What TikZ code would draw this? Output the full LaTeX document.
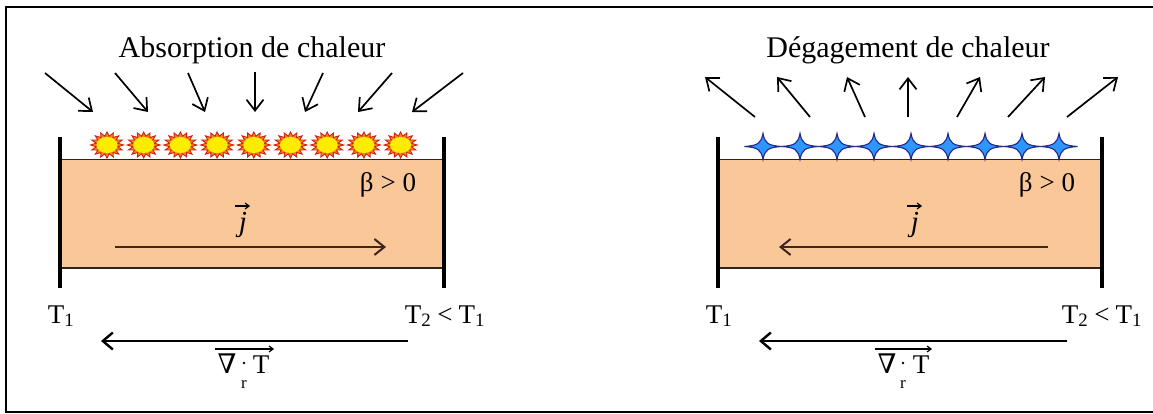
\documentclass[tikz,border=0pt]{standalone}
\usepackage{fontspec}
\setmainfont{Liberation Serif}
\newfontfamily\symfnt{DejaVu Serif}
\usetikzlibrary{arrows.meta}
\definecolor{peach}{RGB}{250,199,152}
\definecolor{boxedge}{RGB}{50,35,25}
\definecolor{inarrow}{RGB}{60,40,30}
\definecolor{sunfill}{RGB}{255,236,0}
\definecolor{sunspike}{RGB}{245,130,20}
\definecolor{sunedge}{RGB}{205,35,20}
\definecolor{starfill}{RGB}{45,150,255}
\definecolor{staredge}{RGB}{35,40,140}
\tikzset{
  frameline/.style={line width=2.5pt,line cap=rect},
  wall/.style={line width=4pt},
  edgeline/.style={draw=boxedge,line width=1.4pt},
  rayarrow/.style={line width=1.7pt,-{Straight Barb[length=11pt,width=17pt,line width=1.7pt]}},
  flowarrow/.style={draw=inarrow,line width=2pt,-{Straight Barb[length=10pt,width=16pt,line width=2pt]}},
  gradarrow/.style={line width=2.4pt,-{Straight Barb[length=10pt,width=17pt,line width=2.4pt]}},
  vecarrow/.style={line width=1.3pt,-{Straight Barb[length=4pt,width=6pt,line width=1.2pt]}},
  titletext/.style={font=\fontsize{30}{34}\selectfont,anchor=base,inner sep=0pt},
  labeltext/.style={font=\fontsize{27}{31}\selectfont,anchor=base,inner sep=0pt},
  jtext/.style={font=\fontsize{29}{33}\selectfont\itshape,anchor=base,inner sep=0pt},
  nablatext/.style={font=\symfnt\fontsize{27}{31}\selectfont,anchor=base,inner sep=0pt},
  subtext/.style={font=\fontsize{17}{19}\selectfont,anchor=base,inner sep=0pt},
  sun/.pic={
    \path[fill=sunspike,draw=sunedge,line width=0.9pt]
      (16.5,0) \foreach \k in {1,...,31} { -- ({(mod(\k,2)==0 ? 16.5 : 11)*cos(\k*360/32)},{(mod(\k,2)==0 ? 13 : 9)*sin(\k*360/32)}) } -- cycle;
    \fill[sunfill] (0,0) ellipse[x radius=10.5,y radius=8];
  },
  bluestar/.pic={
    \path[fill=starfill,draw=staredge,line width=1.1pt]
      (18.5,0) .. controls (5,1) and (2,3) .. (0,13)
      .. controls (-2,3) and (-5,1) .. (-18.5,0)
      .. controls (-5,-1) and (-2,-3) .. (0,-13)
      .. controls (2,-3) and (5,-1) .. (18.5,0) -- cycle;
  }
}
\begin{document}
\begin{tikzpicture}[x=1pt,y=-1pt]
\useasboundingbox (0,0) rectangle (1153,414);
\fill[white] (0,0) rectangle (1153,414);
\draw[frameline] (1153,7) -- (6,7) -- (6,412) -- (1153,412);

% ---------- left panel ----------
\node[titletext] (titleA) at (252,58) {Absorption de chaleur};
\fill[peach] (60,159.5) rectangle (444,268);
\draw[edgeline] (60,159.5) -- (444,159.5);
\draw[edgeline] (60,268) -- (444,268);
\draw[wall] (60,137) -- (60,288);
\draw[wall] (444,137) -- (444,288);
\foreach \i in {0,...,8} { \pic at ({107+\i*36.7},145) {sun}; }
\foreach \sx/\sy/\ex/\ey [count=\n] in {45/73/93/112, 115/73/148/112, 188/73/205/112, 255/72/255/112, 323/73/305/112, 392/73/358/112, 463/73/412/112} {
  \coordinate (ra\n) at (\sx,\sy);
  \coordinate (rb\n) at (\ex,\ey);
  \draw[rayarrow] (ra\n) -- (rb\n);
}
\node[labeltext] (betaA) at (388,192) {β\hspace{7pt}>\hspace{7pt}0};
\node[jtext] (jA) at (243,231) {j};
\coordinate (jvA1) at (235,206);
\coordinate (jvA2) at (250,206);
\draw[vecarrow] (jvA1) -- (jvA2);
\coordinate (jAs) at (115,247);
\coordinate (jAe) at (386,247);
\draw[flowarrow] (jAs) -- (jAe);
\node[labeltext] (T1A) at (61,323) {T\textsubscript{1}};
\node[labeltext] (T2A) at (445,323) {T\textsubscript{2}\hspace{6pt}<\hspace{6pt}T\textsubscript{1}};
\coordinate (gAs) at (408,341);
\coordinate (gAe) at (101,341);
\draw[gradarrow] (gAs) -- (gAe);
\node[nablatext] (nablaA) at (227,373) {∇};
\node[labeltext] (TgA) at (261,373) {T};
\node[subtext] (rA) at (244,388) {r};
\fill (244,363) circle[radius=1.4];
\coordinate (gvA1) at (215,349);
\coordinate (gvA2) at (274,349);
\draw[vecarrow] (gvA1) -- (gvA2);

% ---------- right panel ----------
\node[titletext] (titleB) at (908,58) {Dégagement de chaleur};
\fill[peach] (718,159.5) rectangle (1102,268);
\draw[edgeline] (718,159.5) -- (1102,159.5);
\draw[edgeline] (718,268) -- (1102,268);
\draw[wall] (718,137) -- (718,288);
\draw[wall] (1102,137) -- (1102,288);
\foreach \i in {0,...,8} { \pic at ({763+\i*37},146.5) {bluestar}; }
\foreach \sx/\sy/\ex/\ey [count=\n] in {755/117/705/77, 810/117/777/77, 865/117/847/77, 908/117/908/77, 957/117/980/77, 1008/117/1045/77, 1067/117/1118/77} {
  \coordinate (qa\n) at (\sx,\sy);
  \coordinate (qb\n) at (\ex,\ey);
  \draw[rayarrow] (qa\n) -- (qb\n);
}
\node[labeltext] (betaB) at (1047,192) {β\hspace{7pt}>\hspace{7pt}0};
\node[jtext] (jB) at (915,231) {j};
\coordinate (jvB1) at (907,206);
\coordinate (jvB2) at (922,206);
\draw[vecarrow] (jvB1) -- (jvB2);
\coordinate (jBs) at (1048,247);
\coordinate (jBe) at (779,247);
\draw[flowarrow] (jBs) -- (jBe);
\node[labeltext] (T1B) at (719,323) {T\textsubscript{1}};
\node[labeltext] (T2B) at (1102,323) {T\textsubscript{2}\hspace{6pt}<\hspace{6pt}T\textsubscript{1}};
\coordinate (gBs) at (1067,341);
\coordinate (gBe) at (759,341);
\draw[gradarrow] (gBs) -- (gBe);
\node[nablatext] (nablaB) at (887,373) {∇};
\node[labeltext] (TgB) at (921,373) {T};
\node[subtext] (rB) at (903,388) {r};
\fill (903,363) circle[radius=1.4];
\coordinate (gvB1) at (875,349);
\coordinate (gvB2) at (932,349);
\draw[vecarrow] (gvB1) -- (gvB2);
\end{tikzpicture}
\end{document}
